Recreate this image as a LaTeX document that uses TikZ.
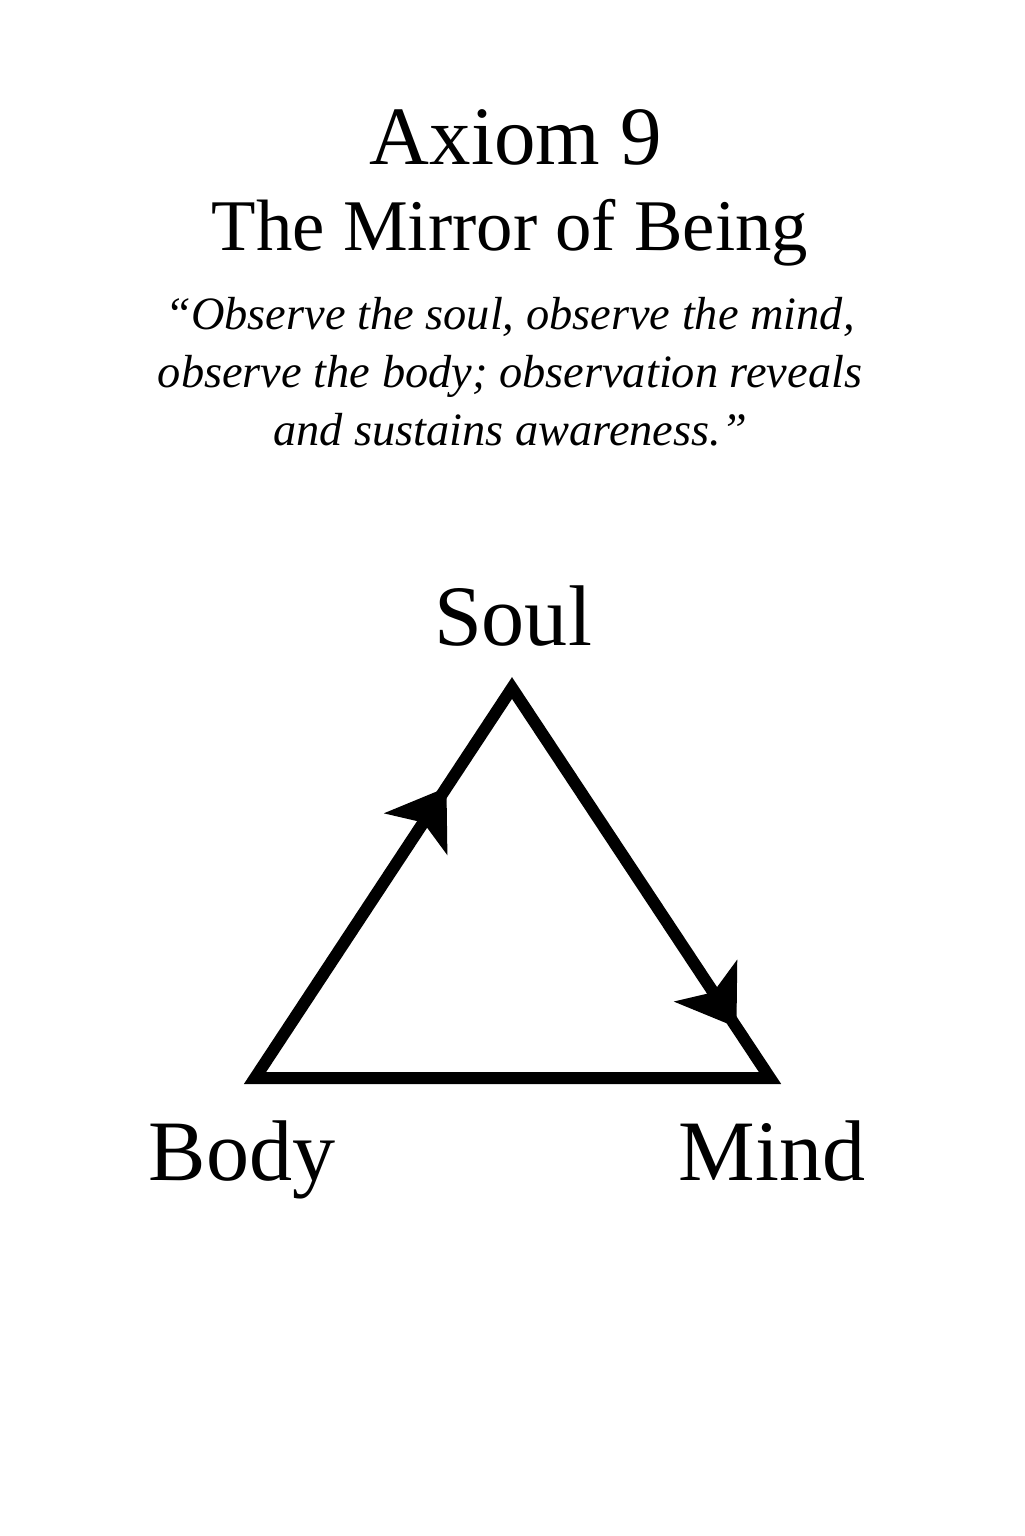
\documentclass[tikz,border=0pt]{standalone}
\usepackage{fontspec}
\setmainfont{Liberation Serif}
\usetikzlibrary{arrows.meta,decorations.markings}
\tikzset{
  titletext/.style={anchor=base,inner sep=0pt,font=\fontsize{23.6}{28}\selectfont},
  subtext/.style={anchor=base,inner sep=0pt,font=\fontsize{20.7}{25}\selectfont},
  quotetext/.style={anchor=base,inner sep=0pt,align=center,font=\fontsize{13.2}{16.4}\selectfont\itshape},
  vertexlabel/.style={anchor=base,inner sep=0pt,font=\fontsize{24.5}{29}\selectfont},
  triedge/.style={line width=1.2mm,line join=miter},
  flowArrow/.style={postaction={decorate},decoration={markings,
    mark=at position #1 with {\arrow{Stealth[length=5.6mm,width=7.6mm,inset=1.4mm]}}}}
}
\begin{document}
\begin{tikzpicture}
  \useasboundingbox (0,0) rectangle (10.24,-15.36);
  \node[titletext] (axiom) at (5.16,-1.65) {Axiom 9};
  \node[subtext] (name) at (5.10,-2.50) {The Mirror of Being};
  % base anchor sits on the last line
  \node[quotetext] (quote) at (5.10,-4.45) {``Observe the soul, observe the mind,\\observe the body; observation reveals\\and sustains awareness.''};
  \coordinate (sv) at (5.12,-6.88);
  \coordinate (bv) at (2.55,-10.78);
  \coordinate (mv) at (7.70,-10.78);
  \draw[triedge] (bv) -- (sv) -- (mv) -- cycle;
  \path[flowArrow=0.745] (bv) -- (sv);
  \path[flowArrow=0.87] (sv) -- (mv);
  \node[vertexlabel] (soul) at (5.13,-6.45) {Soul};
  \node[vertexlabel] (body) at (2.42,-11.80) {Body};
  \node[vertexlabel] (mind) at (7.72,-11.80) {Mind};
\end{tikzpicture}
\end{document}
